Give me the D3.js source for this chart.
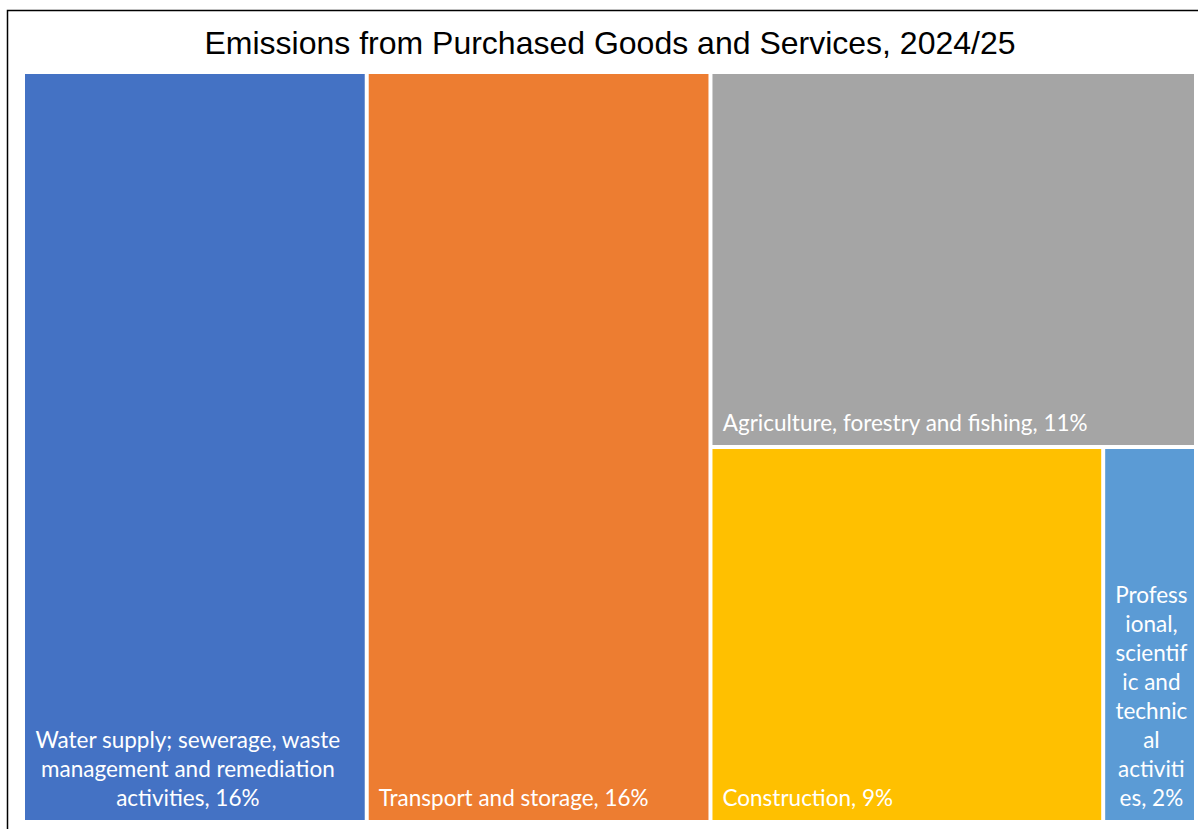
<!DOCTYPE html>
<html>
<head>
<meta charset="utf-8">
<script src="https://cdn.jsdelivr.net/npm/d3@7"></script>
<style>
  body { margin: 0; background: #fff; }
  text { font-variant-ligatures: none; }
</style>
</head>
<body>
<div id="chart"></div>
<script>
var WD = 1198, HT = 829
var margin = { left: 25, right: 4, top: 74, bottom: 9 }
var width = WD - margin.left - margin.right
var height = HT - margin.top - margin.bottom

var title = "Emissions from Purchased Goods and Services, 2024/25"
var categories = ["Water supply; sewerage, waste management and remediation activities",
                  "Transport and storage",
                  "Agriculture, forestry and fishing",
                  "Construction",
                  "Professional, scientific and technical activities"]
var shares = [16.0, 16.0, 11.3, 9.14, 2.16]
var colors = ["#4472C4", "#ED7D31", "#A5A5A5", "#FFC000", "#5B9BD5"]

// nesting the way the spreadsheet laid the tiles out
function leaf(i) { return { name: categories[i], value: shares[i], color: colors[i] } }
var tree = { children: [ leaf(0), leaf(1),
              { children: [ leaf(2), { children: [ leaf(3), leaf(4) ] } ] } ] }

var root = d3.hierarchy(tree).sum(function(d){ return d.value || 0 })
d3.treemap()
    .tile(d3.treemapSliceDice)
    .size([width, height])
    .paddingInner(4)
    .round(false)(root)

var svg = d3.select("#chart").append("svg")
    .attr("width", WD)
    .attr("height", HT)

// chart frame (runs off the right/bottom edges)
svg.append("rect")
    .attr("x", 7.5).attr("y", 10.5)
    .attr("width", 1300).attr("height", 900)
    .attr("fill", "none")
    .attr("stroke", "#000")
    .attr("stroke-width", 1.5)

svg.append("text")
    .attr("x", 610).attr("y", 54)
    .attr("text-anchor", "middle")
    .style("font-family", "'Liberation Sans', Arial, sans-serif")
    .style("font-size", "32px")
    .attr("fill", "#000")
    .text(title)

var g = svg.append("g")
    .attr("transform", "translate(" + margin.left + "," + margin.top + ")")

var leaves = root.leaves()

var cell = g.selectAll("g.cell")
    .data(leaves)
    .enter().append("g")
    .attr("class", "cell")

cell.append("rect")
    .attr("x", function(d){ return d.x0 })
    .attr("y", function(d){ return d.y0 })
    .attr("width", function(d){ return d.x1 - d.x0 })
    .attr("height", function(d){ return d.y1 - d.y0 })
    .attr("fill", function(d){ return d.data.color })

var FONT = "22.5px Lato, 'Open Sans', sans-serif"
var ctx = document.createElement("canvas").getContext("2d")
ctx.font = FONT
function tw(s) { return ctx.measureText(s).width }

// greedy wrap, breaking inside a word when it can't fit on its own
function wrap(text, maxW) {
  var words = text.split(" "), lines = [], cur = ""
  words.forEach(function(w) {
    var test = cur ? cur + " " + w : w
    if (tw(test) <= maxW) { cur = test; return }
    if (cur) { lines.push(cur); cur = "" }
    if (tw(w) <= maxW) { cur = w; return }
    var piece = ""
    for (var i = 0; i < w.length; i++) {
      if (tw(piece + w[i]) > maxW && piece) { lines.push(piece); piece = "" }
      piece += w[i]
    }
    cur = piece
  })
  if (cur) lines.push(cur)
  return lines
}

var pad = 8, lineH = 29

cell.each(function(d) {
  var label = d.data.name + ", " + Math.round(d.data.value) + "%"
  var lines = wrap(label, d.x1 - d.x0 - 2 * pad)
  var blockW = d3.max(lines, tw)
  var cx = d.x0 + pad + 2 + blockW / 2
  var t = d3.select(this).append("text")
      .attr("text-anchor", "middle")
      .attr("fill", "#fff")
      .style("font", FONT)
  lines.forEach(function(l, i) {
    t.append("tspan")
      .attr("x", cx)
      .attr("y", d.y1 - 14 - (lines.length - 1 - i) * lineH)
      .text(l)
  })
})
</script>
</body>
</html>
